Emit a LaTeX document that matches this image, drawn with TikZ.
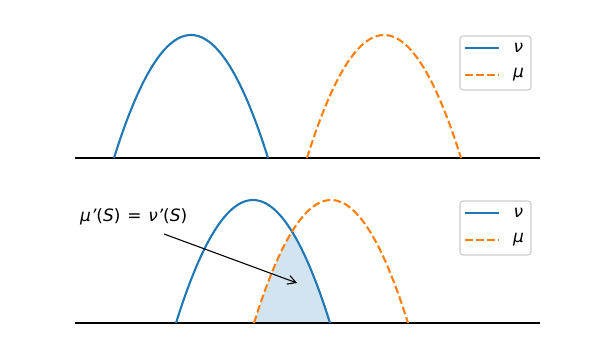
\documentclass[tikz,border=0pt]{standalone}
\usepackage{fontspec}
\setmainfont{DejaVu Sans}
\usepackage{tikz}
\usetikzlibrary{arrows.meta,positioning}
\definecolor{tabblue}{HTML}{1F77B4}
\definecolor{taborange}{HTML}{FF7F0E}

\begin{document}
\begin{tikzpicture}[x=1pt, y=-1pt,
    font=\fontsize{17}{19}\selectfont,
    nucurve/.style={tabblue, line width=2.1pt},
    mucurve/.style={taborange, line width=2.1pt, dash pattern=on 7.7pt off 3.3pt},
    axisline/.style={black, line width=1.1pt},
    legbox/.style={draw=black!20, fill=white, rounded corners=3pt, line width=1.1pt, minimum width=71pt, minimum height=54pt},
    pointer/.style={black, line width=1.1pt, -{Straight Barb[length=8pt, width=9pt]}}]
      \useasboundingbox (0,0) rectangle (600,361);
      % shaded overlap of the two bumps in the lower panel
      \fill[tabblue, fill opacity=0.2]
        plot[domain=254:292, samples=40] (\x, {323-123*(1-((\x-331)/77)^2)})
        -- plot[domain=292:330, samples=40] (\x, {323-123*(1-((\x-253)/77)^2)}) -- cycle;
      % one panel per row: baseline, the two bumps and the legend
      \foreach \base/\pnu/\pmu/\p in {158/191/384/top, 323/253/331/bot} {
          \pgfmathsetmacro{\nul}{\pnu-77}
          \pgfmathsetmacro{\nur}{\pnu+77}
          \pgfmathsetmacro{\mul}{\pmu-77}
          \pgfmathsetmacro{\mur}{\pmu+77}
          \draw[axisline] (75,\base) -- (540,\base);
          \draw[nucurve] plot[domain=\nul:\nur, samples=61] (\x, {\base-123*(1-((\x-\pnu)/77)^2)});
          \draw[mucurve] plot[domain=\mul:\mur, samples=61] (\x, {\base-123*(1-((\x-\pmu)/77)^2)});
          % legend
          \node[legbox] (leg\p) at (495.5,\base-95) {};
          \draw[nucurve] ([xshift=6pt, yshift=15pt]leg\p.west) -- ++(34,0);
          \draw[mucurve] ([xshift=6pt, yshift=-12pt]leg\p.west) -- ++(34,0);
          \node (nu\p) at ([xshift=59pt, yshift=15pt]leg\p.west) {\itshape ν};
          \node (mu\p) at ([xshift=59pt, yshift=-12pt]leg\p.west) {\itshape μ};
        }
      \node[anchor=west, inner sep=0pt] (eqlabel) at (80,217) {{\itshape μ\symbol{39}}({\itshape S})\hspace{0.4em}=\hspace{0.4em}{\itshape ν\symbol{39}}({\itshape S})};
      \coordinate (tail) at (164,234);
      \coordinate (head) at (297,283);
      \draw[pointer] (tail) -- (head);
    \end{tikzpicture}
\end{document}
